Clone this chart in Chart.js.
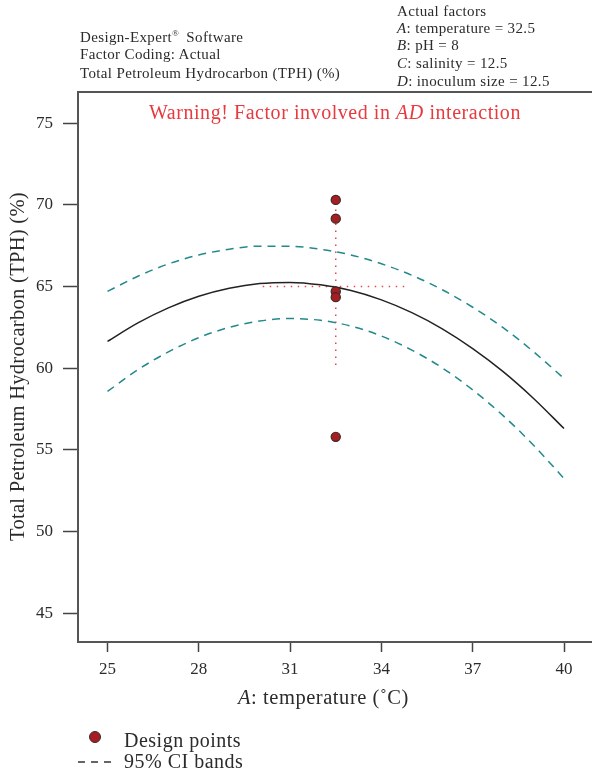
<!DOCTYPE html>
<html>
<head>
<meta charset="utf-8">
<script src="https://cdn.jsdelivr.net/npm/chart.js@4/dist/chart.umd.min.js"></script>
<style>
  html, body { margin: 0; padding: 0; background: #fff; overflow: hidden; }
  #wrap { position: relative; width: 592px; height: 775px; font-family: "Liberation Serif", "DejaVu Serif", serif; color: #2b2b2b; }
  #cv { position: absolute; left: 0; top: 0; }
  .t { position: absolute; white-space: nowrap; line-height: 1; }
  .hdr { font-size: 15px; letter-spacing: 0.35px; }
  .hdr sup { font-size: 9px; vertical-align: 6px; margin-right: 3px; }
  #warn { color: #e8393e; font-size: 20px; letter-spacing: 0.55px; }
  #ytitle { font-size: 20.5px; letter-spacing: 0.3px; transform-origin: 0 0; transform: rotate(-90deg); }
  #xtitle { font-size: 20.5px; letter-spacing: 0.55px; }
  .leg { font-size: 20px; letter-spacing: 0.5px; }
  .dot { position: absolute; width: 10px; height: 10px; border-radius: 50%; background: #a61e22; border: 1px solid #3a2a2a; }
</style>
</head>
<body>
<div id="wrap">
  <canvas id="cv" width="592" height="775"></canvas>

  <div class="t hdr" style="left:80px; top:29px;">Design-Expert<sup>®</sup> Software</div>
  <div class="t hdr" style="left:80px; top:47px;">Factor Coding: Actual</div>
  <div class="t hdr" style="left:80px; top:66px;">Total Petroleum Hydrocarbon (TPH) (%)</div>

  <div class="t hdr" style="left:397px; top:4px;">Actual factors</div>
  <div class="t hdr" style="left:397px; top:21px;"><i>A</i>: temperature = 32.5</div>
  <div class="t hdr" style="left:397px; top:38px;"><i>B</i>: pH = 8</div>
  <div class="t hdr" style="left:397px; top:56px;"><i>C</i>: salinity = 12.5</div>
  <div class="t hdr" style="left:397px; top:74px;"><i>D</i>: inoculum size = 12.5</div>

  <div class="t" id="warn" style="left:149px; top:102px;">Warning! Factor involved in <i>AD</i> interaction</div>

  <div class="t" id="ytitle" style="left:7px; top:541px;">Total Petroleum Hydrocarbon (TPH) (%)</div>
  <div class="t" id="xtitle" style="left:238px; top:687px;"><i>A</i>: temperature (˚C)</div>

  <div class="dot" style="left:89px; top:731px;"></div>
  <div class="t leg" style="left:124px; top:730px;">Design points</div>
  <svg style="position:absolute; left:78px; top:756px;" width="40" height="12">
    <line x1="0" y1="6" x2="36" y2="6" stroke="#333" stroke-width="1.3" stroke-dasharray="7,6"></line>
  </svg>
  <div class="t leg" style="left:124px; top:751px;">95% CI bands</div>
</div>

<script>
// Temperature grid (°C) at which the fitted response and its 95% CI were read
const temperature = [25, 26, 27, 28, 29, 30, 31, 32, 33, 34, 35, 36, 37, 38, 39, 40];
// Predicted TPH removal (%)
const predicted = [61.64, 62.77, 63.69, 64.40, 64.89, 65.18, 65.25, 65.10, 64.75, 64.18, 63.40, 62.41, 61.20, 59.79, 58.15, 56.31];
// Upper and lower 95% confidence bands (%)
const upperCI = [64.70, 65.63, 66.38, 66.93, 67.28, 67.47, 67.46, 67.28, 66.93, 66.39, 65.69, 64.80, 63.73, 62.48, 61.01, 59.37];
const lowerCI = [58.58, 59.91, 61.00, 61.87, 62.50, 62.89, 63.04, 62.93, 62.58, 61.97, 61.11, 60.02, 58.67, 57.10, 55.29, 53.25];

// Design points run at the centre temperature
const designTemperature = 32.5;
const designTPH = [70.3, 69.15, 64.7, 64.35, 55.8];

// Red cross-hair marking the current factor setting
const crossVertical = { x: [32.5, 32.5], y: [60.2, 69.8] };
const crossHorizontal = { x: [30.1, 34.8], y: [65.0, 65.0] };

// Axis ticks and ranges
const xTicks = [25, 28, 31, 34, 37, 40];
const yTicks = [45, 50, 55, 60, 65, 70, 75];
const xRange = [24.03, 40.92];
const yRange = [43.25, 76.9];

const pts = (xs, ys) => xs.map((x, i) => ({ x, y: ys[i] }));

const axisColor = '#555';
const tickFont = { family: 'Liberation Serif', size: 17 };

new Chart(document.getElementById('cv'), {
  type: 'scatter',
  data: {
    datasets: [
      {
        label: 'Design points',
        data: designTPH.map(y => ({ x: designTemperature, y })),
        pointRadius: 4.6,
        pointBackgroundColor: '#a61e22',
        pointBorderColor: '#3a2a2a',
        pointBorderWidth: 1.2,
        showLine: false
      },
      {
        label: 'Prediction',
        data: pts(temperature, predicted),
        showLine: true, pointRadius: 0,
        borderColor: '#222', borderWidth: 1.5, cubicInterpolationMode: 'monotone'
      },
      {
        label: 'Upper 95% CI',
        data: pts(temperature, upperCI),
        showLine: true, pointRadius: 0,
        borderColor: '#23898a', borderWidth: 1.5, borderDash: [8, 6], cubicInterpolationMode: 'monotone'
      },
      {
        label: 'Lower 95% CI',
        data: pts(temperature, lowerCI),
        showLine: true, pointRadius: 0,
        borderColor: '#23898a', borderWidth: 1.5, borderDash: [8, 6], cubicInterpolationMode: 'monotone'
      },
      {
        label: 'Setting (vertical)',
        data: pts(crossVertical.x, crossVertical.y),
        showLine: true, pointRadius: 0,
        borderColor: '#e8484c', borderWidth: 1.5, borderDash: [1.5, 5.5]
      },
      {
        label: 'Setting (horizontal)',
        data: pts(crossHorizontal.x, crossHorizontal.y),
        showLine: true, pointRadius: 0,
        borderColor: '#e8484c', borderWidth: 1.5, borderDash: [1.5, 5.5]
      }
    ]
  },
  options: {
    responsive: false,
    animation: false,
    devicePixelRatio: 1,
    layout: { autoPadding: false, padding: { left: 0, top: 92, right: 0, bottom: 0 } },
    plugins: { legend: { display: false }, tooltip: { enabled: false } },
    scales: {
      x: {
        type: 'linear', position: 'bottom',
        min: xRange[0], max: xRange[1],
        afterBuildTicks: s => { s.ticks = xTicks.map(v => ({ value: v })); },
        afterFit: s => { s.height = 133; s.paddingLeft = 0; s.paddingRight = 0; },
        ticks: { font: tickFont, color: '#2b2b2b', padding: 7, maxRotation: 0, autoSkip: false },
        grid: { drawOnChartArea: false, tickLength: 10, color: '#444', tickWidth: 1.5 },
        border: { color: axisColor, width: 2 }
      },
      xTop: {
        type: 'linear', position: 'top',
        min: xRange[0], max: xRange[1],
        afterFit: s => { s.height = 0; s.paddingLeft = 0; s.paddingRight = 0; },
        ticks: { display: false },
        grid: { drawOnChartArea: false, drawTicks: false },
        border: { color: axisColor, width: 2 }
      },
      y: {
        type: 'linear', position: 'left',
        min: yRange[0], max: yRange[1],
        afterBuildTicks: s => { s.ticks = yTicks.map(v => ({ value: v })); },
        afterFit: s => { s.width = 78; },
        ticks: { font: tickFont, color: '#2b2b2b', padding: 10 },
        grid: { drawOnChartArea: false, tickLength: 15, color: '#444', tickWidth: 1.5 },
        border: { color: axisColor, width: 2 }
      }
    }
  }
});
</script>
</body>
</html>
